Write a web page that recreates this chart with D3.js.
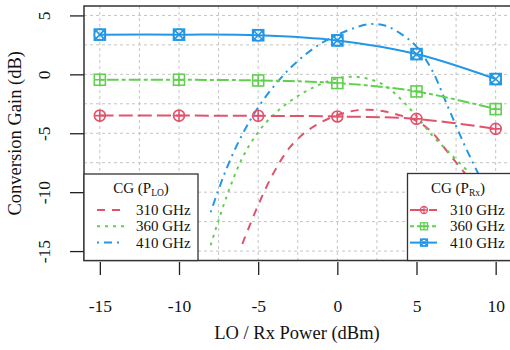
<!DOCTYPE html>
<html>
<head>
<meta charset="utf-8">
<script src="https://cdn.jsdelivr.net/npm/d3@7"></script>
<style>
  body { margin: 0; background: #fff; }
  svg { display: block; font-family: "Liberation Serif", "DejaVu Serif", serif; }
</style>
</head>
<body>
<div id="chart"></div>
<script>
// DATA
const rxPower = [-15, -10, -5, 0, 5, 10];
const rx310 = [-3.5, -3.5, -3.52, -3.58, -3.78, -4.63];
const rx360 = [-0.46, -0.46, -0.52, -0.74, -1.45, -2.95];
const rx410 = [3.37, 3.37, 3.32, 2.88, 1.72, -0.4];

const loPower310 = [-6, -5, -4, -3, -2, -1, 0, 1, 2, 3, 4, 5, 6, 7, 8, 9, 10];
const lo310 = [-14.4, -11.1, -8.3, -6.2, -4.9, -4.05, -3.45, -3.1, -3.0, -3.15, -3.5, -3.95, -4.95, -6.65, -8.3, -10.0, -11.7];
const loPower = [-8, -7, -6, -5, -4, -3, -2, -1, 0, 1, 2, 3, 4, 5, 6, 7, 8, 9, 10];
const lo360 = [-14.5, -10.4, -7.1, -4.9, -3.4, -2.3, -1.45, -0.8, -0.35, -0.2, -0.4, -0.95, -2.1, -3.55, -5.2, -6.55, -7.9, -9.2, -10.5];
const lo410 = [-11.7, -8.0, -5.1, -2.8, -1.0, 0.5, 1.7, 2.65, 3.35, 3.9, 4.25, 4.15, 3.45, 2.35, 0.3, -2.8, -5.9, -8.7, -11.3];

const freqLabels = ["310 GHz", "360 GHz", "410 GHz"];
const xTicks = [-15, -10, -5, 0, 5, 10];
const yTicks = [5, 0, -5, -10, -15];
const xGrid = [-15, -12.5, -10, -7.5, -5, -2.5, 0, 2.5, 5, 7.5, 10];
const yGrid = [5, 2.5, 0, -2.5, -5, -7.5, -10, -12.5, -15];

const colors = ["#DF536B", "#61D04F", "#2297E6"];
const rxDash = ["14,5", "4,3,12,3", null];
const loDash = ["8,7", "3,5", "2,5,8,5"];

const width = 510;
const height = 350;
const plot = { left: 84, top: 6, right: 511.5, bottom: 260.5 };

const svg = d3.create("svg")
  .attr("width", width)
  .attr("height", height)
  .attr("viewBox", `0 0 ${width} ${height}`);

// SCALES
const x = d3.scaleLinear().domain([-16, 11]).range([plot.left, plot.right]);
const y = d3.scaleLinear().domain([-15.8, 5.8]).range([plot.bottom, plot.top]);

svg.append("defs").append("clipPath").attr("id", "clip")
  .append("rect")
  .attr("x", plot.left).attr("y", plot.top)
  .attr("width", plot.right - plot.left).attr("height", plot.bottom - plot.top);

// GRID
const grid = svg.append("g")
  .attr("stroke", "#c4c4c4")
  .attr("stroke-width", 1)
  .attr("stroke-dasharray", "3,3");
grid.selectAll(".gx").data(xGrid).join("line")
  .attr("x1", (d) => x(d)).attr("x2", (d) => x(d))
  .attr("y1", plot.top).attr("y2", plot.bottom);
grid.selectAll(".gy").data(yGrid).join("line")
  .attr("x1", plot.left).attr("x2", plot.right)
  .attr("y1", (d) => y(d)).attr("y2", (d) => y(d));

// LINES
const line = d3.line()
  .x((d) => x(d[0]))
  .y((d) => y(d[1]))
  .curve(d3.curveCatmullRom.alpha(0.5));

const series = svg.append("g").attr("clip-path", "url(#clip)");

const loSeries = [
  d3.zip(loPower310, lo310),
  d3.zip(loPower, lo360),
  d3.zip(loPower, lo410),
];
const rxSeries = [rx310, rx360, rx410].map((v) => d3.zip(rxPower, v));

loSeries.forEach((pts, i) => {
  series.append("path")
    .attr("d", line(pts))
    .attr("fill", "none")
    .attr("stroke", colors[i])
    .attr("stroke-width", 2)
    .attr("stroke-dasharray", loDash[i]);
});

rxSeries.forEach((pts, i) => {
  series.append("path")
    .attr("d", line(pts))
    .attr("fill", "none")
    .attr("stroke", colors[i])
    .attr("stroke-width", 2)
    .attr("stroke-dasharray", rxDash[i]);
});

// MARKERS
const drawMarker = (g, kind, cx, cy, s, color, sw) => {
  const m = g.append("g")
    .attr("transform", `translate(${cx},${cy})`)
    .attr("stroke", color)
    .attr("stroke-width", sw)
    .attr("fill", "none");
  if (kind === 0) {
    m.append("circle").attr("r", s);
    m.append("path").attr("d", `M${-s},0H${s}M0,${-s}V${s}`);
  } else if (kind === 1) {
    m.append("rect").attr("x", -s).attr("y", -s).attr("width", 2 * s).attr("height", 2 * s);
    m.append("path").attr("d", `M${-s},0H${s}M0,${-s}V${s}`);
  } else {
    m.append("rect").attr("x", -s).attr("y", -s).attr("width", 2 * s).attr("height", 2 * s);
    m.append("circle").attr("r", s);
    m.append("path").attr("d", `M${-s},${-s}L${s},${s}M${-s},${s}L${s},${-s}`);
  }
};

const markers = svg.append("g");
rxSeries.forEach((pts, i) => {
  pts.forEach((p) => drawMarker(markers, i, x(p[0]), y(p[1]), 5.5, colors[i], 1.6));
});

// FRAME
svg.append("rect")
  .attr("x", plot.left).attr("y", plot.top)
  .attr("width", plot.right - plot.left).attr("height", plot.bottom - plot.top)
  .attr("fill", "none")
  .attr("stroke", "#333")
  .attr("stroke-width", 1.5);

// AXES
const xAxis = d3.axisBottom(x).tickValues(xTicks).tickSize(13).tickFormat((d) => String(d));
svg.append("g")
  .attr("transform", `translate(0,${plot.bottom + 1.5})`)
  .call(xAxis)
  .call((g) => g.select(".domain").remove())
  .call((g) => g.selectAll("line").attr("stroke", "#222").attr("stroke-width", 1.3))
  .call((g) => g.selectAll("text")
    .attr("y", 49.5)
    .attr("dy", null)
    .attr("fill", "#111")
    .attr("font-size", 17.5)
    .attr("font-family", "Liberation Serif, serif"));

const yAxis = d3.axisLeft(y).tickValues(yTicks).tickSize(14).tickFormat((d) => String(d));
svg.append("g")
  .attr("transform", `translate(${plot.left},0)`)
  .call(yAxis)
  .call((g) => g.select(".domain").remove())
  .call((g) => g.selectAll("line").attr("stroke", "#222").attr("stroke-width", 1.3))
  .call((g) => g.selectAll("text")
    .attr("x", null)
    .attr("dy", null)
    .attr("text-anchor", "middle")
    .attr("transform", "translate(-34,0) rotate(-90)")
    .attr("fill", "#111")
    .attr("font-size", 17.5)
    .attr("font-family", "Liberation Serif, serif"));

// AXIS TITLES
svg.append("text")
  .attr("x", (plot.left + 510) / 2)
  .attr("y", 339)
  .attr("text-anchor", "middle")
  .attr("font-size", 18.5)
  .attr("fill", "#111")
  .text("LO / Rx Power (dBm)");

svg.append("text")
  .attr("transform", `translate(21,${(plot.top + plot.bottom) / 2}) rotate(-90)`)
  .attr("text-anchor", "middle")
  .attr("font-size", 18.5)
  .attr("fill", "#111")
  .text("Conversion Gain (dB)");

// LEGENDS
const legendTitle = (g, cx, cy, sub) => {
  const t = g.append("text")
    .attr("x", cx).attr("y", cy)
    .attr("text-anchor", "middle")
    .attr("font-size", 15)
    .attr("fill", "#111");
  t.append("tspan").text("CG (P");
  t.append("tspan").attr("font-size", 9.5).attr("dy", 3).text(sub);
  t.append("tspan").attr("dy", -3).text(")");
};

const legLo = svg.append("g");
legLo.append("rect")
  .attr("x", plot.left).attr("y", 174)
  .attr("width", 114).attr("height", plot.bottom - 174)
  .attr("fill", "#fff").attr("stroke", "#333").attr("stroke-width", 1.3);
legendTitle(legLo, 141, 193, "LO");
freqLabels.forEach((lab, i) => {
  const ly = 210 + i * 16.3;
  legLo.append("line")
    .attr("x1", 97).attr("x2", 124).attr("y1", ly).attr("y2", ly)
    .attr("stroke", colors[i]).attr("stroke-width", 2)
    .attr("stroke-dasharray", loDash[i]);
  legLo.append("text")
    .attr("x", 136).attr("y", ly + 5)
    .attr("font-size", 15).attr("fill", "#111")
    .text(lab);
});

const legRx = svg.append("g");
legRx.append("rect")
  .attr("x", 407.5).attr("y", 173.5)
  .attr("width", 104).attr("height", plot.bottom - 173.5)
  .attr("fill", "#fff").attr("stroke", "#333").attr("stroke-width", 1.3);
legendTitle(legRx, 458, 193, "Rx");
freqLabels.forEach((lab, i) => {
  const ly = 210 + i * 16.3;
  legRx.append("line")
    .attr("x1", 410).attr("x2", 437).attr("y1", ly).attr("y2", ly)
    .attr("stroke", colors[i]).attr("stroke-width", 2)
    .attr("stroke-dasharray", rxDash[i]);
  drawMarker(legRx, i, 424, ly, 3.5, colors[i], 1.3);
  legRx.append("text")
    .attr("x", 450).attr("y", ly + 5)
    .attr("font-size", 15).attr("fill", "#111")
    .text(lab);
});

d3.select("#chart").append(() => svg.node());
</script>
</body>
</html>
